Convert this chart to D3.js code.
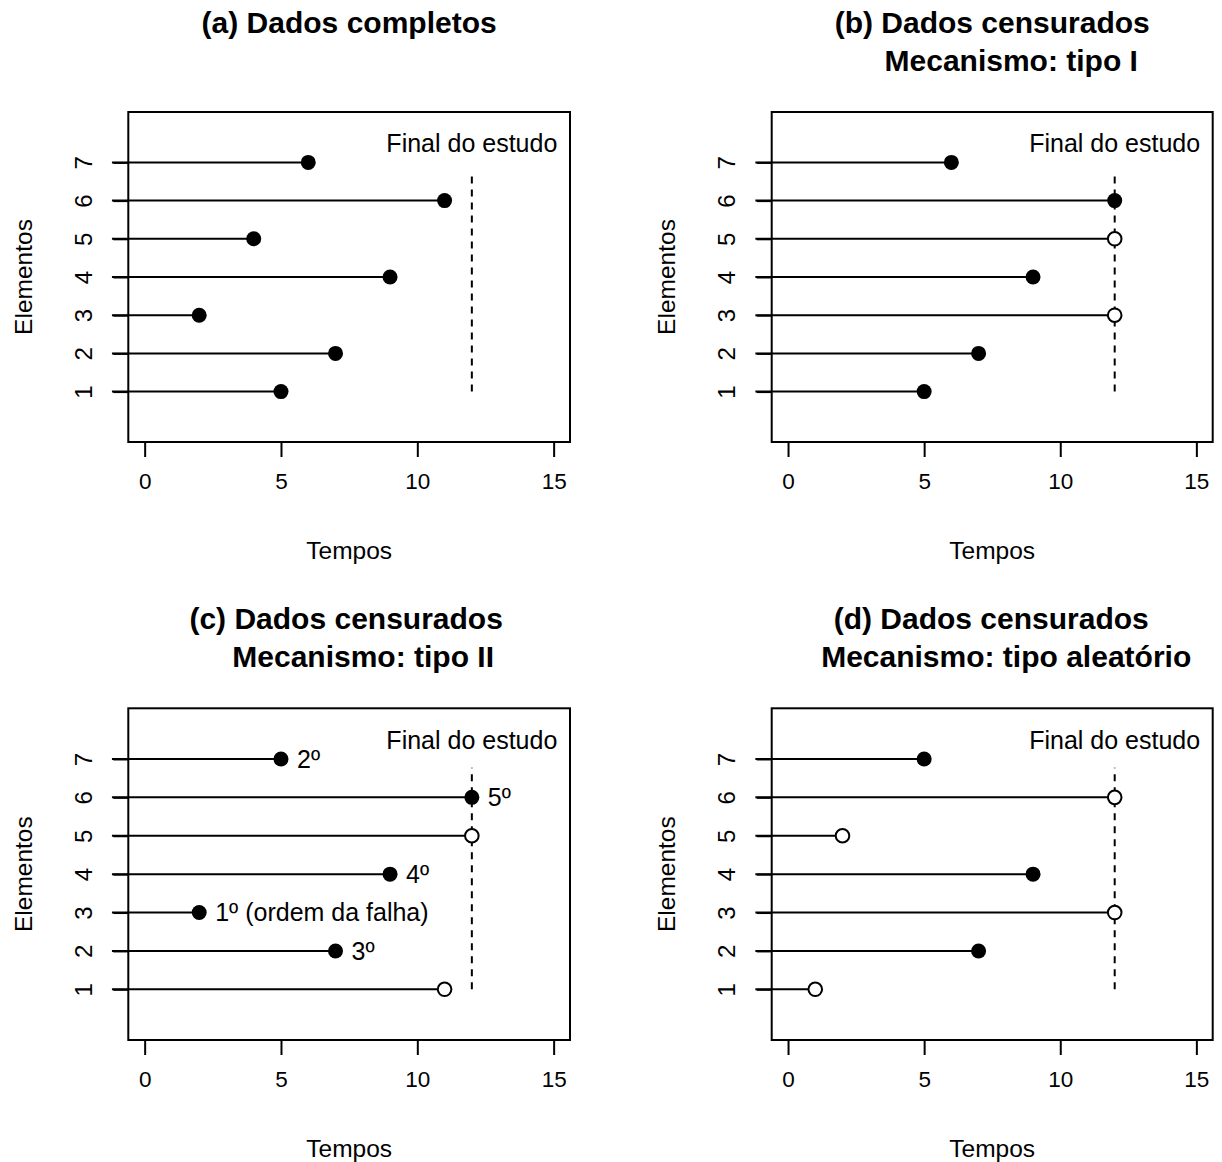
<!DOCTYPE html>
<html>
<head>
<meta charset="utf-8">
<script src="https://cdn.jsdelivr.net/npm/d3@7"></script>
<style>
  body { margin: 0; background: #fff; }
  svg { display: block; }
  text { font-family: "Liberation Sans", Arial, Helvetica, sans-serif; fill: #000; }
</style>
</head>
<body>
<svg id="chart" width="1222" height="1162"></svg>
<script>
// ---------- data ----------
const elements = [1, 2, 3, 4, 5, 6, 7];
const xTicks = [0, 5, 10, 15];
const yTicks = [1, 2, 3, 4, 5, 6, 7];
const studyEnd = 12;
const segStart = -1.2;

const timesA = [5, 7, 2, 9, 4, 11, 6];
const statusA = [1, 1, 1, 1, 1, 1, 1];
const timesB = [5, 7, 12, 9, 12, 12, 6];
const statusB = [1, 1, 0, 1, 0, 1, 1];
const timesC = [11, 7, 2, 9, 12, 12, 5];
const statusC = [0, 1, 1, 1, 0, 1, 1];
const labelsC = ["", "3º", "1º (ordem da falha)", "4º", "", "5º", "2º"];
const timesD = [1, 7, 12, 9, 2, 12, 5];
const statusD = [0, 1, 0, 1, 0, 0, 1];

const titleA = ["(a) Dados completos"];
const titleB = ["(b) Dados censurados", "Mecanismo: tipo I"];
const titleC = ["(c) Dados censurados", "Mecanismo: tipo II"];
const titleD = ["(d) Dados censurados", "Mecanismo: tipo aleatório"];
const endLabel = "Final do estudo";
const xLabel = "Tempos";
const yLabel = "Elementos";

// ---------- layout ----------
const panels = [
  { title: titleA, times: timesA, status: statusA, labels: null, box: [128.3, 570, 112, 442], tOff: [0] },
  { title: titleB, times: timesB, status: statusB, labels: null, box: [771.7, 1212.7, 112, 442], tOff: [0, 19] },
  { title: titleC, times: timesC, status: statusC, labels: labelsC, box: [128.3, 570, 708.3, 1040], tOff: [-3, 14] },
  { title: titleD, times: timesD, status: statusD, labels: null, box: [771.7, 1212.7, 708.3, 1040], tOff: [-1, 14] }
];

const svg = d3.select("#chart");
const F_XTICK = 22.5, F_YTICK = 24, F_LAB = 24.5, F_TXT = 25, F_TITLE = 30;

panels.forEach(p => {
  const [x0, x1, y0, y1] = p.box;
  const x = d3.scaleLinear().domain([-0.6, 15.6]).range([x0, x1]);
  const y = d3.scaleLinear().domain([-0.32, 8.32]).range([y1, y0]);
  const g = svg.append("g");

  // title
  p.title.forEach((t, i) => {
    g.append("text")
      .attr("x", (x0 + x1) / 2 + p.tOff[i])
      .attr("y", y0 - 90 + i * 38)
      .attr("dy", "0.35em")
      .attr("text-anchor", "middle")
      .attr("font-weight", "bold")
      .attr("font-size", F_TITLE)
      .text(t);
  });

  // segments
  g.selectAll("line.seg").data(elements).join("line")
    .attr("x1", x(segStart)).attr("x2", (d, i) => x(p.times[i]))
    .attr("y1", d => y(d)).attr("y2", d => y(d))
    .attr("stroke", "#000").attr("stroke-width", 2);

  // dashed study end line
  g.append("line")
    .attr("x1", x(studyEnd)).attr("x2", x(studyEnd))
    .attr("y1", y(1)).attr("y2", y(6.77))
    .attr("stroke", "#000").attr("stroke-width", 2)
    .attr("stroke-dasharray", "7,6");

  // points
  g.selectAll("circle.pt").data(elements).join("circle")
    .attr("cx", (d, i) => x(p.times[i]))
    .attr("cy", d => y(d))
    .attr("r", (d, i) => p.status[i] ? 7.5 : 6.8)
    .attr("fill", (d, i) => p.status[i] ? "#000" : "#fff")
    .attr("stroke", "#000")
    .attr("stroke-width", (d, i) => p.status[i] ? 0 : 2);

  // text "Final do estudo"
  g.append("text")
    .attr("x", x(studyEnd)).attr("y", y(7.5))
    .attr("dy", "0.35em").attr("text-anchor", "middle")
    .attr("font-size", F_TXT).text(endLabel);

  // order labels
  if (p.labels) {
    g.selectAll("text.lab").data(elements.filter((d, i) => p.labels[i] !== "")).join("text")
      .attr("x", d => x(p.times[d - 1]) + 16)
      .attr("y", d => y(d))
      .attr("dy", "0.35em")
      .attr("font-size", F_TXT)
      .text(d => p.labels[d - 1]);
  }

  // box
  g.append("rect")
    .attr("x", x0).attr("y", y0).attr("width", x1 - x0).attr("height", y1 - y0)
    .attr("fill", "none").attr("stroke", "#000").attr("stroke-width", 2);

  // x axis
  const xa = g.append("g").attr("transform", `translate(0,${y1})`)
    .call(d3.axisBottom(x).tickValues(xTicks).tickSize(15).tickPadding(16).tickFormat(d3.format("d")));
  xa.select(".domain").remove();
  xa.selectAll("line").attr("stroke-width", 2);
  xa.selectAll("text").attr("font-size", F_XTICK).attr("font-family", null);

  // y axis
  const ya = g.append("g").attr("transform", `translate(${x0},0)`)
    .call(d3.axisLeft(y).tickValues(yTicks).tickSize(15).tickFormat(d3.format("d")));
  ya.select(".domain").remove();
  ya.selectAll("line").attr("stroke-width", 2);
  ya.selectAll("text")
    .attr("font-size", F_YTICK).attr("font-family", null)
    .attr("x", null)
    .attr("text-anchor", "middle")
    .attr("transform", "translate(-45,0) rotate(-90)")
    .attr("dy", "0.35em");

  // axis titles
  g.append("text")
    .attr("x", (x0 + x1) / 2).attr("y", y1 + 108)
    .attr("dy", "0.35em").attr("text-anchor", "middle")
    .attr("font-size", F_LAB).text(xLabel);
  g.append("text")
    .attr("transform", `translate(${x0 - 105},${(y0 + y1) / 2}) rotate(-90)`)
    .attr("dy", "0.35em").attr("text-anchor", "middle")
    .attr("font-size", F_LAB).text(yLabel);
});
</script>
</body>
</html>
